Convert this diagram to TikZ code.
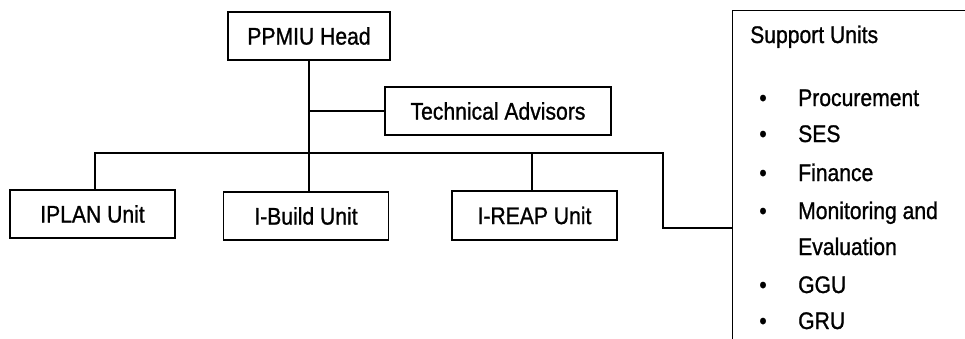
\documentclass[tikz,border=0pt]{standalone}
\usepackage{fontspec}
\setmainfont{Liberation Sans}[FakeStretch=0.88, FakeBold=1]
\usetikzlibrary{positioning}

\tikzset{
  unitbox/.style={draw, rectangle, line width=1.3pt, minimum width=165pt, minimum height=48pt, inner sep=0pt, font=\fontsize{24}{28}\selectfont},
  listtext/.style={anchor=base west, inner sep=0pt, font=\fontsize{24}{28}\selectfont},
  link/.style={line width=1.3pt},
}

\begin{document}
\begin{tikzpicture}[x=1pt, y=-1pt]
    \useasboundingbox (0,0) rectangle (965,338);
    \clip (0,0) rectangle (965,338);

    % top of the chart
    \node[unitbox, minimum width=162pt] (head) at (309,36) {PPMIU Head};
    \node[unitbox, minimum width=226pt] (tech) at (498,111) {Technical Advisors};

    % units
    \node[unitbox] (iplan) at (92.5,214) {IPLAN Unit};
    \node[unitbox] (ibuild) at (306,216) {I-Build Unit};
    \node[unitbox, minimum height=49pt] (ireap) at (534.5,215.5) {I-REAP Unit};

    % support units box, cut off at the right and bottom
    \node[draw, line width=1.3pt, anchor=north west, minimum width=260pt, minimum height=360pt] (support) at (732,10) {};
    \node[listtext] (suptitle) at (750,43) {Support Units};
    \foreach \txt/\ypos [count=\i] in {Procurement/106, SES/142, Finance/181, Monitoring and/219, GGU/293, GRU/329} {
        \node[listtext] (item\i) at (798,\ypos) {\txt};
        \node[listtext, anchor=base] (dot\i) at (763,\ypos) {\textbullet};
    }
    \node[listtext] (item7) at (798,255) {Evaluation};

    % connectors
    \coordinate (busL) at (95,153);
    \coordinate (busR) at (663,153);
    \coordinate (supjoin) at (732,228);
    \draw[link] (head.south) -- (head.south |- ibuild.north);
    \draw[link] (tech.west) -- (tech.west -| head.south);
    \draw[link] (iplan.north -| busL) -- (busL) -- (busR) |- (supjoin);
    \draw[link] (ireap.north -| 532,0) -- (532,153);
\end{tikzpicture}
\end{document}
